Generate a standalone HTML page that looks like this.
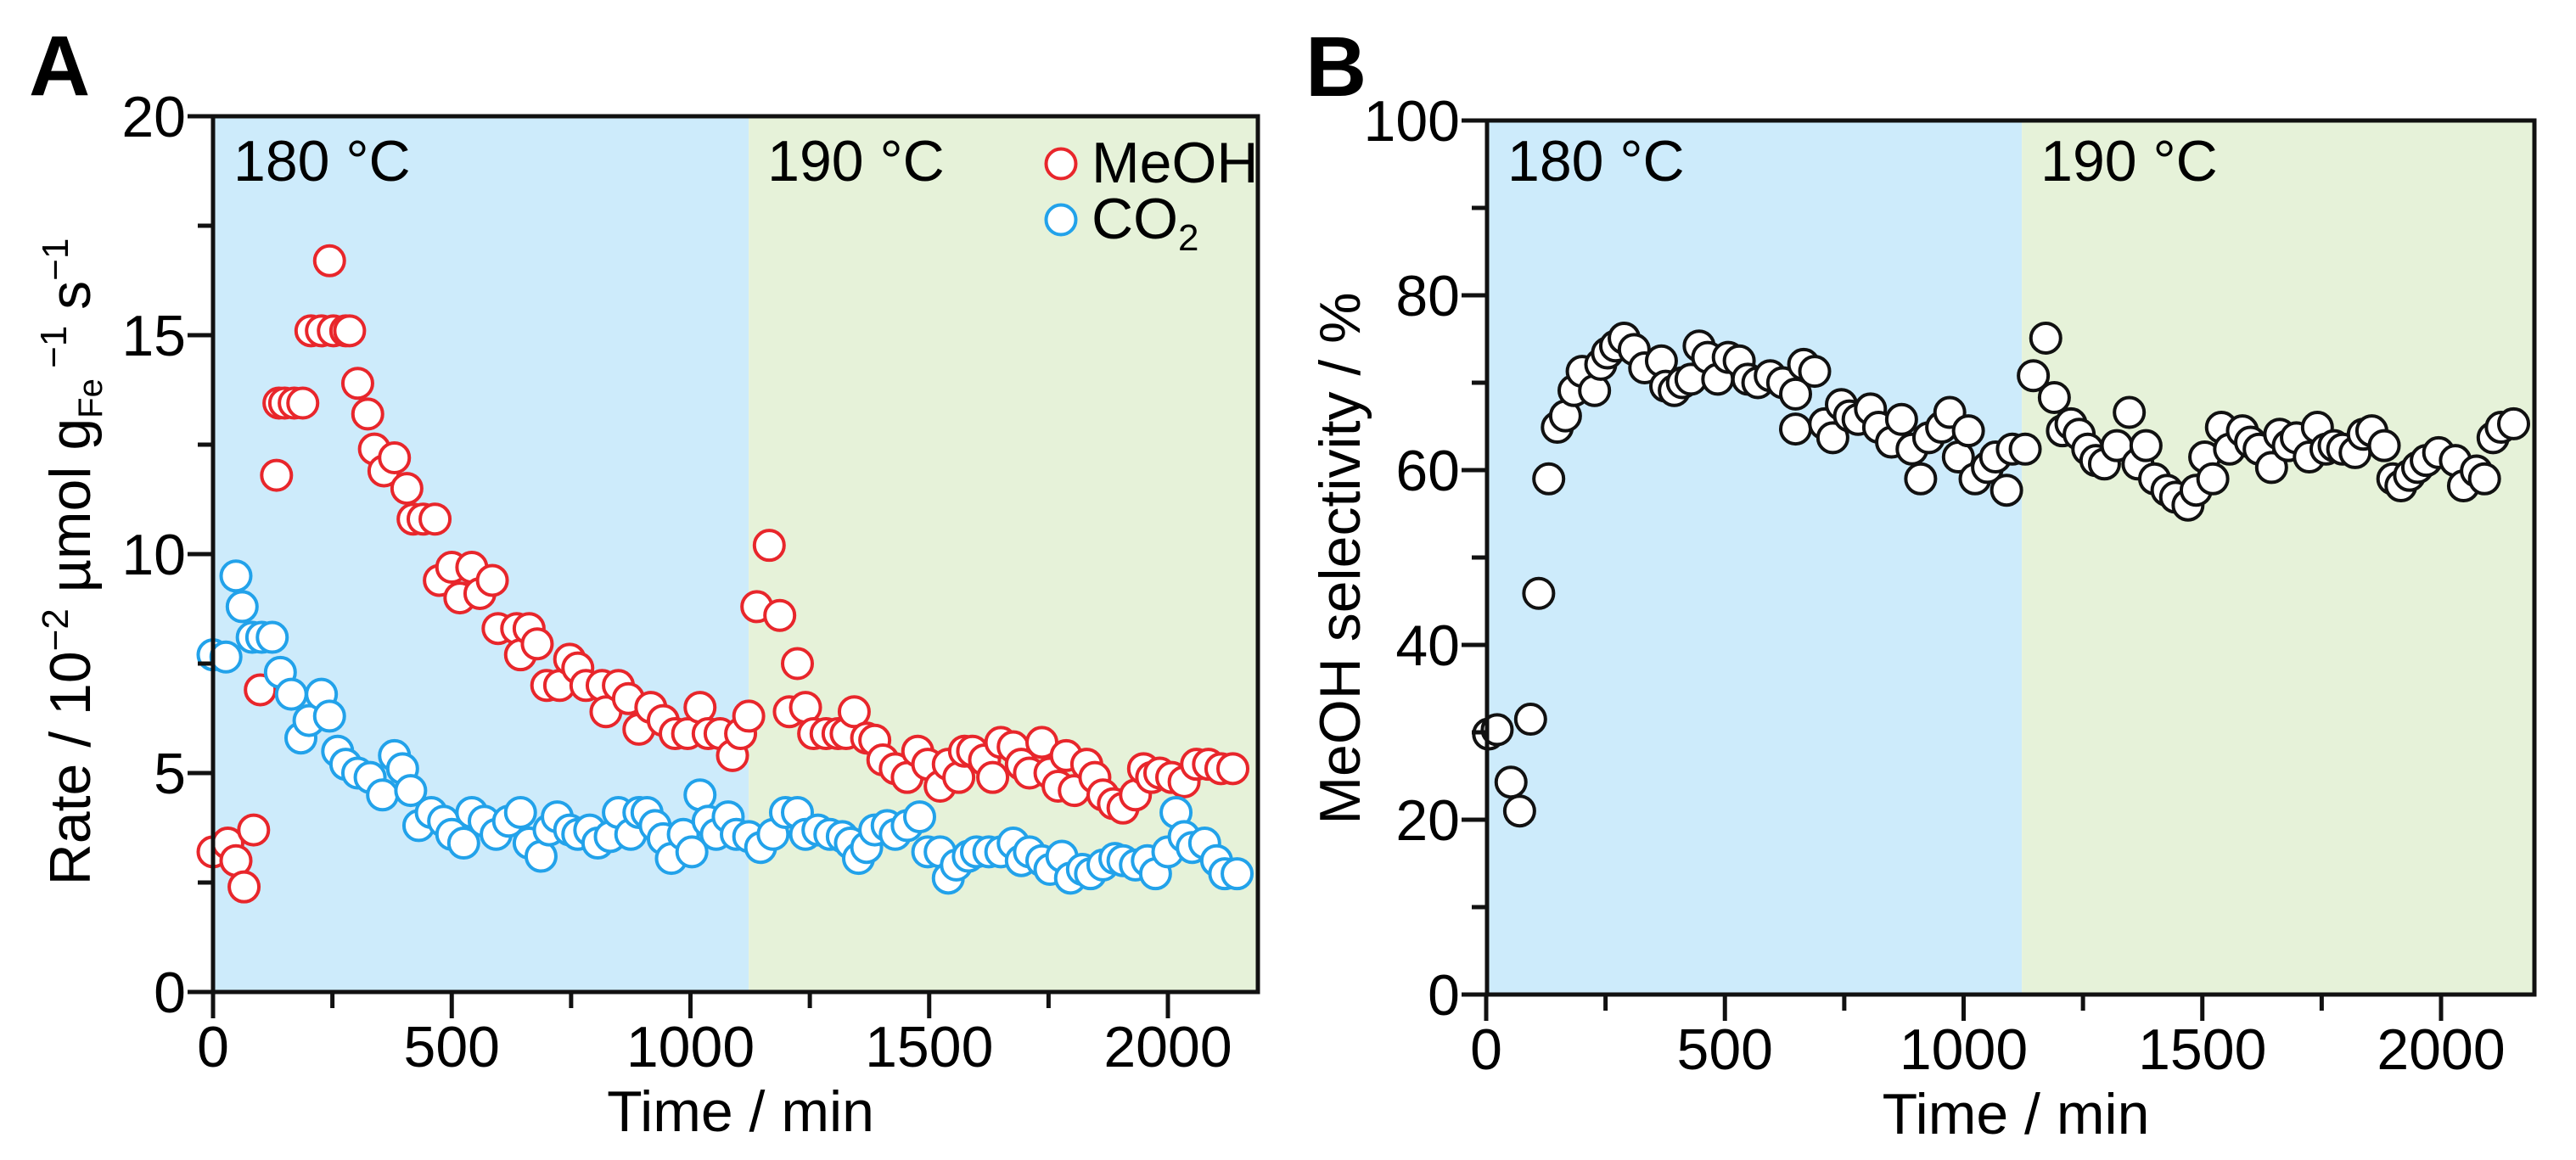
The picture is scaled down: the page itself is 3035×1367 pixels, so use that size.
<!DOCTYPE html>
<html><head><meta charset="utf-8"><style>
html,body{margin:0;padding:0;background:#fff;}
svg{display:block;font-family:"Liberation Sans",Arial,sans-serif;}
</style></head><body>
<svg id="fig" width="3035" height="1367" viewBox="0 0 3035 1367" xmlns="http://www.w3.org/2000/svg">
<g id="pa"></g>
<g id="pb"></g>
</svg>
<script>
const NS="http://www.w3.org/2000/svg";
// ---- Panel A data ----
const meohTime=[0,31,48,65,85,99,133,138,150,170,188,205,227,244,252,278,286,303,324,338,358,380,406,419,440,465,474,500,517,542,559,585,597,636,644,662,679,699,726,747,764,781,815,823,849,870,892,917,943,968,994,1020,1037,1062,1088,1105,1122,1139,1165,1187,1207,1224,1241,1258,1284,1309,1326,1343,1369,1386,1403,1429,1454,1476,1497,1523,1540,1562,1574,1591,1616,1633,1650,1676,1693,1710,1736,1753,1770,1787,1804,1830,1847,1864,1886,1906,1932,1949,1966,1983,2008,2034,2060,2085,2111,2136];
const meohRate=[3.2,3.4,3.0,2.4,3.7,6.9,11.8,13.45,13.45,13.45,13.45,15.1,15.1,16.7,15.1,15.1,15.1,13.9,13.2,12.4,11.9,12.2,11.5,10.8,10.8,10.8,9.4,9.7,9.0,9.7,9.1,9.4,8.3,8.3,7.7,8.3,7.95,7.0,7.0,7.6,7.4,7.0,7.0,6.4,7.0,6.7,6.0,6.5,6.2,5.9,5.9,6.5,5.9,5.9,5.4,5.9,6.3,8.8,10.2,8.6,6.4,7.5,6.5,5.9,5.9,5.9,5.9,6.4,5.8,5.75,5.3,5.1,4.9,5.5,5.2,4.7,5.2,4.9,5.5,5.5,5.3,4.9,5.7,5.6,5.2,5.0,5.7,5.0,4.7,5.4,4.6,5.2,4.9,4.5,4.3,4.2,4.5,5.1,4.9,5.0,4.9,4.8,5.2,5.2,5.1,5.1];
const co2Time=[0,27,48,61,82,102,124,141,164,184,201,227,244,261,278,303,329,355,380,397,414,431,457,483,500,525,542,568,593,619,644,662,687,704,721,747,764,789,806,832,849,875,892,909,926,943,960,985,1003,1020,1037,1054,1079,1096,1122,1147,1173,1199,1224,1241,1267,1292,1318,1335,1352,1369,1386,1412,1429,1454,1480,1497,1523,1540,1557,1582,1599,1625,1650,1676,1693,1710,1736,1753,1778,1796,1821,1838,1864,1889,1906,1932,1957,1974,2000,2017,2034,2051,2077,2102,2119,2145];
const co2Rate=[7.7,7.65,9.5,8.8,8.1,8.1,8.1,7.3,6.8,5.8,6.2,6.8,6.3,5.5,5.2,5.0,4.9,4.5,5.4,5.1,4.6,3.8,4.1,3.9,3.6,3.4,4.1,3.9,3.6,3.9,4.1,3.4,3.1,3.7,4.0,3.7,3.6,3.7,3.4,3.55,4.1,3.6,4.1,4.1,3.8,3.5,3.05,3.6,3.2,4.5,3.9,3.6,4.0,3.6,3.55,3.3,3.6,4.1,4.1,3.6,3.7,3.6,3.55,3.4,3.05,3.3,3.7,3.8,3.6,3.8,4.0,3.2,3.2,2.6,2.9,3.1,3.2,3.2,3.2,3.4,3.0,3.2,3.0,2.8,3.1,2.6,2.8,2.7,2.9,3.05,3.0,2.9,3.0,2.7,3.2,4.1,3.55,3.3,3.4,3.0,2.7,2.7];
const aYTicks=[0,5,10,15,20];
const xTicks=[0,500,1000,1500,2000];
// ---- Panel B data ----
const selTime=[5,23,52,70,93,110,131,149,166,184,201,227,240,254,271,289,310,332,367,376,394,411,429,446,464,485,507,530,548,569,595,621,648,648,665,688,709,726,744,761,779,805,822,849,870,892,910,927,954,971,989,1010,1024,1050,1067,1090,1102,1129,1146,1172,1190,1207,1225,1242,1260,1277,1295,1321,1347,1365,1382,1400,1426,1444,1470,1487,1505,1522,1540,1557,1584,1601,1619,1645,1662,1680,1697,1724,1741,1759,1776,1794,1820,1837,1855,1881,1899,1916,1934,1951,1969,1995,2030,2047,2074,2091,2109,2126,2152];
const selValue=[29.8,30.3,24.3,21,31.5,45.9,59,64.9,66.2,69.1,71.3,69.1,72.1,73.4,74.2,75.1,73.8,71.7,72.5,69.6,69.1,70.0,70.4,74.2,72.9,70.4,72.9,72.5,70.4,70.0,70.8,70.0,68.7,64.7,72.1,71.3,65.3,63.7,67.5,66.2,65.8,67.0,64.9,63.2,65.8,62.4,59,63.7,64.9,66.6,61.5,64.5,59,60.3,61.5,57.7,62.4,62.4,70.8,75.1,68.3,64.5,65.3,64.1,62.4,61.1,60.7,62.8,66.6,60.7,62.8,59,57.7,56.9,56,57.7,61.5,59,64.9,62.4,64.5,63.2,62.4,60.3,64.1,62.8,63.7,61.5,64.9,62.4,62.8,62.4,62.0,64.1,64.5,62.8,59,58.2,59.4,60.3,61.1,62.0,61.1,58.2,59.9,59,63.7,64.9,65.3];
const bYTicks=[0,20,40,60,80,100];
const boundaryTime=1122;

function el(tag,attrs,parent,text){const e=document.createElementNS(NS,tag);for(const k in attrs)e.setAttribute(k,attrs[k]);if(text!==undefined)e.textContent=text;parent.appendChild(e);return e;}

function panel(g,cfg){
  const X=t=>cfg.x0+t*cfg.kx, Y=v=>cfg.yb-(v-0)*(cfg.yb-cfg.yt)/cfg.ymax;
  const bx=X(boundaryTime);
  let r=el('rect',{x:cfg.L,y:cfg.yt,width:bx-cfg.L,height:cfg.yb-cfg.yt,fill:'#cdebfb'},g);
  
  r=el('rect',{x:bx,y:cfg.yt,width:cfg.R-bx,height:cfg.yb-cfg.yt,fill:'#e6f2d9'},g);
  
  let t=el('text',{x:cfg.L+24,y:213,'font-size':68},g,'180 °C');
  
  t=el('text',{x:bx+22,y:213,'font-size':68},g,'190 °C');
  
  // series
  cfg.series.forEach(s=>{
    const sg=el('g',{},g);
    
    s.t.forEach((tt,i)=>{
      const c=el('circle',{cx:X(tt),cy:Y(s.v[i]),r:17.5,fill:'#fff',stroke:s.color,'stroke-width':4},sg);
      
      
    });
  });
  // frame
  const f=el('rect',{x:cfg.L,y:cfg.yt,width:cfg.R-cfg.L,height:cfg.yb-cfg.yt,fill:'none',stroke:'#111','stroke-width':5},g);
  
  // y ticks
  cfg.yTicks.forEach((v,i)=>{
    el('line',{x1:cfg.L-30,x2:cfg.L,y1:Y(v),y2:Y(v),stroke:'#111','stroke-width':5},g);
    const lb=el('text',{x:cfg.L-32,y:Y(v)+24,'font-size':68,'text-anchor':'end'},g,String(v));
    
    if(i<cfg.yTicks.length-1){const m=(v+cfg.yTicks[i+1])/2;el('line',{x1:cfg.L-18,x2:cfg.L,y1:Y(m),y2:Y(m),stroke:'#111','stroke-width':5},g);}
  });
  xTicks.forEach(v=>{
    el('line',{x1:X(v),x2:X(v),y1:cfg.yb,y2:cfg.yb+31,stroke:'#111','stroke-width':5},g);
    const lb=el('text',{x:X(v),y:cfg.yb+88,'font-size':68,'text-anchor':'middle'},g,String(v));
    
    const m=v+250;if(X(m)<cfg.R)el('line',{x1:X(m),x2:X(m),y1:cfg.yb,y2:cfg.yb+19,stroke:'#111','stroke-width':5},g);
  });
  const xt=el('text',{x:(cfg.L+cfg.R)/2+6,y:cfg.yb+164,'font-size':68,'text-anchor':'middle'},g,'Time / min');
  
  return {X,Y};
}

const pa=document.getElementById('pa');
panel(pa,{L:251,R:1482,yt:137,yb:1169,x0:251,kx:0.5625,ymax:20,yTicks:aYTicks,
  series:[{name:'meoh-series',t:meohTime,v:meohRate,color:'#e8262b'},{name:'co2-series',t:co2Time,v:co2Rate,color:'#22a2ea'}]});
const pb=document.getElementById('pb');
panel(pb,{L:1752,R:2986,yt:142,yb:1172,x0:1751,kx:0.5625,ymax:100,yTicks:bYTicks,
  series:[{name:'selectivity-series',t:selTime,v:selValue,color:'#111'}]});
</script>
<svg width="0" height="0" style="position:absolute"></svg>
<script>
const fig=document.getElementById('fig');
function add(tag,attrs,text,name){const e=document.createElementNS(NS,tag);for(const k in attrs)e.setAttribute(k,attrs[k]);if(text!==undefined)e.innerHTML=text;fig.appendChild(e);


return e;}
add('text',{x:34,y:112,'font-size':100,'font-weight':'bold'},'A','panel-label-a');
add('text',{x:1538,y:113,'font-size':100,'font-weight':'bold'},'B','panel-label-b');
add('text',{transform:'translate(106,662) rotate(-90)','font-size':68,'text-anchor':'middle'},'Rate / 10<tspan font-size="44" dy="-26">−2</tspan><tspan dy="26"> µmol g</tspan><tspan font-size="40" dy="14">Fe</tspan><tspan font-size="44" dy="-42"> −1</tspan><tspan dy="28"> s</tspan><tspan font-size="44" dy="-26">−1</tspan>','y-axis-title-a');
add('text',{transform:'translate(1602,658) rotate(-90)','font-size':68,'text-anchor':'middle'},'MeOH selectivity / %','y-axis-title-b');
add('circle',{cx:1250,cy:193,r:17.5,fill:'#fff',stroke:'#e8262b','stroke-width':4},undefined,'legend-marker-meoh');
add('text',{x:1286,y:215,'font-size':68},'MeOH','legend-label-meoh');
add('circle',{cx:1250,cy:259,r:17.5,fill:'#fff',stroke:'#22a2ea','stroke-width':4},undefined,'legend-marker-co2');
add('text',{x:1286,y:281,'font-size':68},'CO<tspan font-size="44" dy="14">2</tspan>','legend-label-co2');
</script>
</body></html>
